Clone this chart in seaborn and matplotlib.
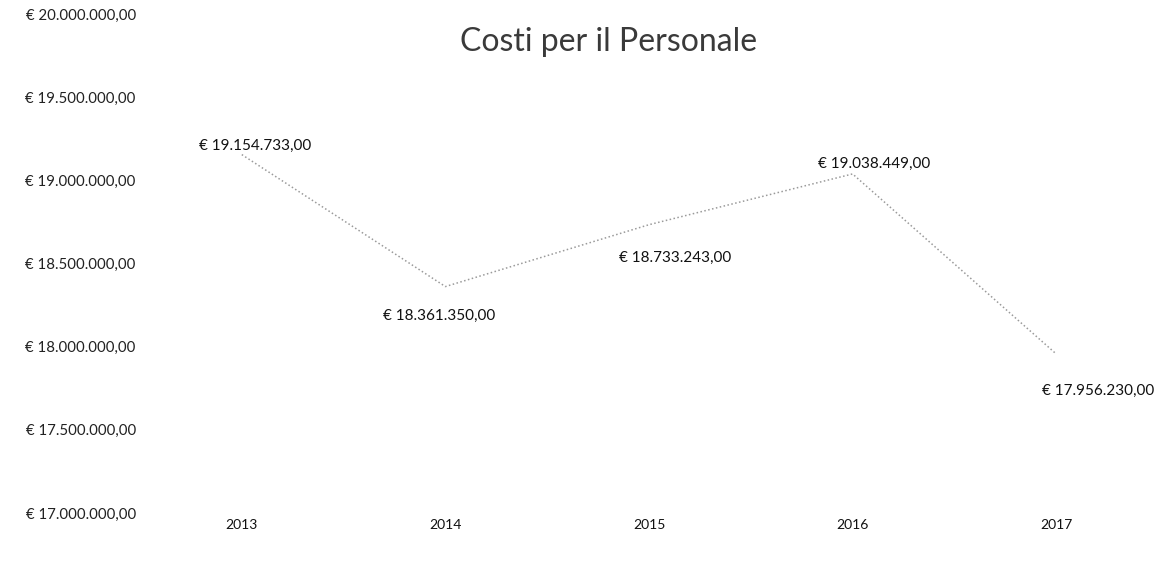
import matplotlib
matplotlib.use("Agg")
import matplotlib.pyplot as plt
from matplotlib.ticker import FuncFormatter, MultipleLocator
import seaborn as sns

# Personnel costs per year (euro)
years = ["2013", "2014", "2015", "2016", "2017"]
costs = [19154733.00, 18361350.00, 18733243.00, 19038449.00, 17956230.00]

# label offsets in pixels (dx, dy) relative to each point
label_offsets = [(13, 9), (-6, -29), (26, -33), (22, 10), (42, -37)]

sns.set_theme(style="white")
plt.rcParams["font.family"] = ["Lato", "DejaVu Sans"]


def euro(v):
    s = f"{v:,.2f}"
    s = s.replace(",", "X").replace(".", ",").replace("X", ".")
    return f"€ {s}"


fig = plt.figure(figsize=(11.58, 5.66), dpi=100)
ax = fig.add_axes([140 / 1158, 1 - 513 / 566, 1 - 140 / 1158, (513 - 14) / 566])

sns.pointplot(x=years, y=costs, ax=ax, color="#9a9a9a", marker="",
              linestyle=(0, (1, 1.6)), linewidth=1.1, errorbar=None)

ax.set_ylim(17_000_000, 20_000_000)
ax.set_xlim(-0.5, len(years) - 0.5)
ax.yaxis.set_major_locator(MultipleLocator(500_000))
ax.yaxis.set_major_formatter(FuncFormatter(lambda v, p: euro(v)))
ax.tick_params(axis="y", labelsize=10.8, colors="#222222", pad=3, length=0)
ax.tick_params(axis="x", labelsize=10, colors="#111111", pad=4, length=0)
ax.set_xlabel("")
ax.set_ylabel("")
sns.despine(ax=ax, left=True, bottom=True)
ax.grid(False)

for i, (v, (dx, dy)) in enumerate(zip(costs, label_offsets)):
    ax.annotate(euro(v), xy=(i, v), xytext=(dx, dy), textcoords="offset pixels",
                ha="center", va="center", fontsize=11, color="#111111")

fig.text(609 / 1158, 1 - 42 / 566, "Costi per il Personale", ha="center",
         va="center", fontsize=23, color="#3a3a3a")

fig.savefig("out.png", dpi=100, facecolor="white")
